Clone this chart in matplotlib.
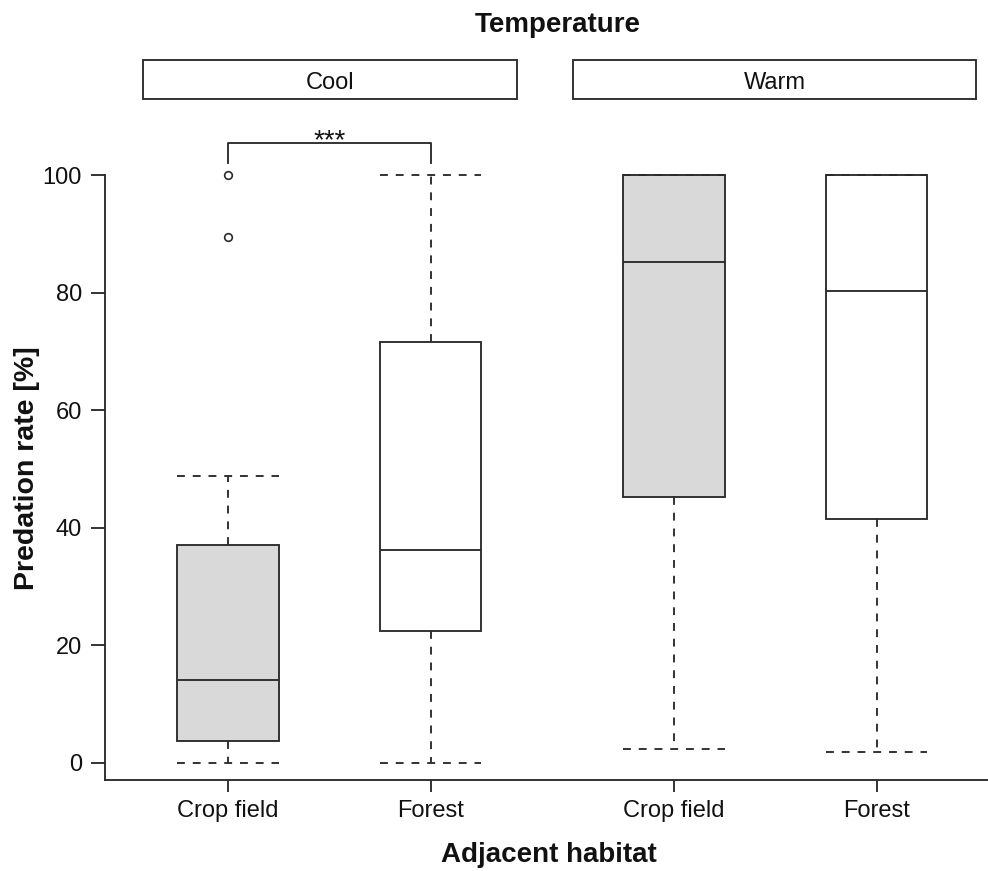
import matplotlib.pyplot as plt
from matplotlib.patches import Rectangle
from matplotlib.transforms import blended_transform_factory

plt.rcParams['font.family'] = ['Liberation Sans', 'DejaVu Sans']

# predation rate summaries per temperature x adjacent habitat
temperature = ['Cool', 'Warm']
habitat = ['Crop field', 'Forest', 'Crop field', 'Forest']
q1 = [3.8, 22.4, 45.3, 41.5]
median = [14.1, 36.2, 85.2, 80.3]
q3 = [37.0, 71.7, 100.0, 100.0]
whisker_lo = [0.0, 0.0, 2.4, 1.8]
whisker_hi = [48.9, 100.0, 100.0, 100.0]
outliers = [[100.0, 89.5], [], [], []]
signif = '***'

positions = [1, 2, 3.2, 4.2]
fills = ['#d9d9d9', 'white', '#d9d9d9', 'white']
ink = '#2b2b2b'
txt = '#111111'
lw = 1.35

stats = []
for i in range(len(habitat)):
    stats.append(dict(med=median[i], q1=q1[i], q3=q3[i],
                      whislo=whisker_lo[i], whishi=whisker_hi[i],
                      fliers=outliers[i]))

fig = plt.figure(figsize=(9.88, 8.71), dpi=100)
ax = fig.add_axes([0.1063, 0.1045, 0.8937, 0.7463])

dash = (0, (4.2, 4.2))
bp = ax.bxp(stats, positions=positions, widths=0.5, capwidths=0.5,
            patch_artist=True, showfliers=True,
            boxprops=dict(edgecolor=ink, linewidth=lw),
            whiskerprops=dict(color=ink, linewidth=lw, linestyle=dash),
            capprops=dict(color=ink, linewidth=lw, linestyle=dash),
            medianprops=dict(color=ink, linewidth=lw),
            flierprops=dict(marker='o', markerfacecolor='none',
                            markeredgecolor=ink, markersize=5.5,
                            markeredgewidth=1.2))
for box, c in zip(bp['boxes'], fills):
    box.set_facecolor(c)

ax.set_xlim(0.393, 4.749)
ax.set_ylim(-2.9, 107.7)
ax.set_yticks([0, 20, 40, 60, 80, 100])
ax.set_xticks(positions)
ax.set_xticklabels(habitat)

for s in ['top', 'right']:
    ax.spines[s].set_visible(False)
for s in ['left', 'bottom']:
    ax.spines[s].set_color(ink)
    ax.spines[s].set_linewidth(lw)
ax.spines['left'].set_bounds(-2.9, 100)

ax.tick_params(axis='y', length=10, width=lw, color=ink, pad=6.5,
               labelsize=17, labelcolor=txt)
ax.tick_params(axis='x', length=8.5, width=lw, color=ink, pad=6,
               labelsize=17, labelcolor=txt)

# significance bracket between the two cool-temperature boxes
ax.plot([1, 1, 2, 2], [102.1, 105.5, 105.5, 102.1], color=ink,
        linewidth=lw, clip_on=False)
ax.text(1.5, 103.6, signif, ha='center', va='bottom', fontsize=20,
        color=txt)

# facet strips for temperature
trans = blended_transform_factory(ax.transData, ax.transAxes)
strip_x = [(0.581, 2.424), (2.704, 4.689)]
for label, (x0, x1) in zip(temperature, strip_x):
    ax.add_patch(Rectangle((x0, 1.0477), x1 - x0, 0.06, transform=trans,
                           fill=False, edgecolor=ink, linewidth=lw,
                           clip_on=False))
    ax.text((x0 + x1) / 2, 1.073, label, transform=trans, ha='center',
            va='center', fontsize=17, color=txt)

fig.text(557.5 / 988, 1 - 32 / 871, 'Temperature', ha='center',
         va='baseline', fontsize=20, fontweight='bold', color=txt)
fig.text(549 / 988, 1 - 862 / 871, 'Adjacent habitat', ha='center',
         va='baseline', fontsize=20, fontweight='bold', color=txt)
fig.text(27 / 988, 1 - 468 / 871, 'Predation rate [%]', ha='center',
         va='center', rotation=90, fontsize=20.5, fontweight='bold',
         color=txt)

fig.savefig('out.png', dpi=100)
